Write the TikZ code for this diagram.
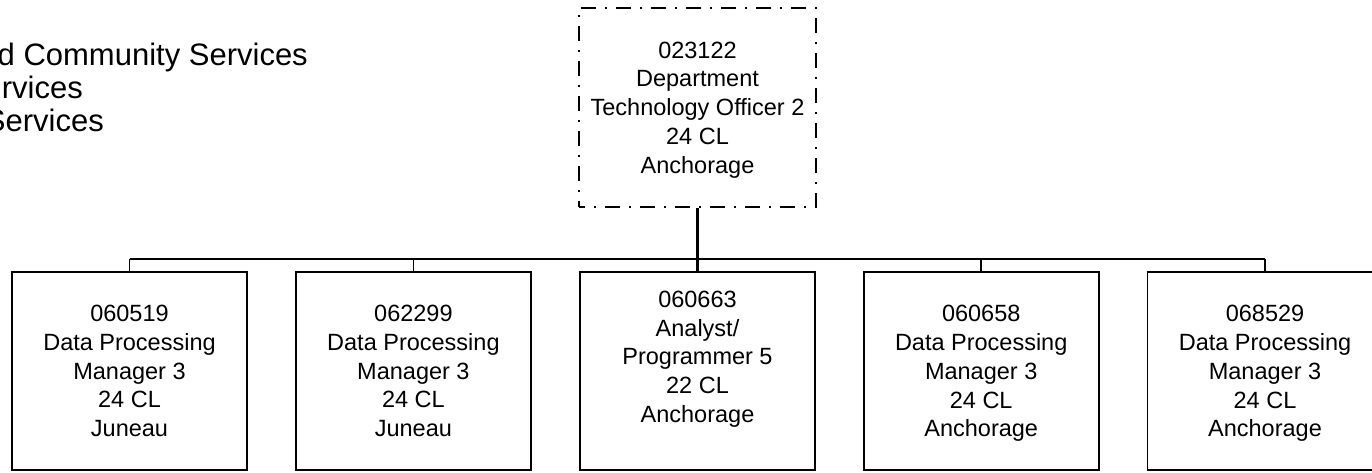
\documentclass[tikz,border=0pt]{standalone}
\usepackage{fontspec}
\setmainfont{Liberation Sans}
\newcommand\nodepth[1]{\raisebox{0pt}[\height][0pt]{#1}}
\begin{document}
\begin{tikzpicture}[x=1pt,y=-1pt,
  posbox/.style={draw=black, line width=1.6pt, minimum width=235pt, minimum height=198pt,
    inner sep=0pt, align=center, font=\fontsize{23.5}{28.8}\selectfont},
  topbox/.style={posbox, line width=1.3pt, minimum width=237pt, minimum height=199pt,
    dash pattern=on 15pt off 9pt on 2pt off 9pt, dash phase=9pt},
  headtext/.style={anchor=base east, inner sep=0pt, font=\fontsize{31}{33.3}\selectfont},
  mainlink/.style={line width=3pt},
  buslink/.style={line width=2pt},
  droplink/.style={line width=1.6pt}]
\useasboundingbox (0,0) rectangle (1372,472);
\clip (0,0) rectangle (1372,472);

\node[headtext] (h1) at (308,65) {d Community Services};
\node[headtext] (h2) at (83,98) {rvices};
\node[headtext] (h3) at (104,131.5) {Services};

\node[topbox] (top) at (697.5,107.5) {023122\\Department\\Technology Officer 2\\24 CL\\\nodepth{Anchorage}};

\node[posbox] (b1) at (129.5,371) {060519\\Data Processing\\Manager 3\\24 CL\\Juneau};
\node[posbox] (b2) at (413.4,371) {062299\\Data Processing\\Manager 3\\24 CL\\Juneau};
\node[posbox] (b3) at (697.5,371) {060663\\Analyst/\\Programmer 5\\22 CL\\Anchorage\\\mbox{}};
\node[posbox] (b4) at (981.2,371) {060658\\Data Processing\\Manager 3\\24 CL\\\nodepth{Anchorage}};
\node[posbox] (b5) at (1265,371) {068529\\Data Processing\\Manager 3\\24 CL\\\nodepth{Anchorage}};

\coordinate (bus) at (0,259);
\foreach \i in {1,...,5} {
  \coordinate (j\i) at (b\i.north |- bus);
}
\draw[mainlink] (top.south) -- (b3.north);
\draw[buslink] (j1) -- (j5);
\foreach \i in {1,2,4,5} {
  \draw[droplink] (j\i) -- (b\i.north);
}
\end{tikzpicture}
\end{document}
